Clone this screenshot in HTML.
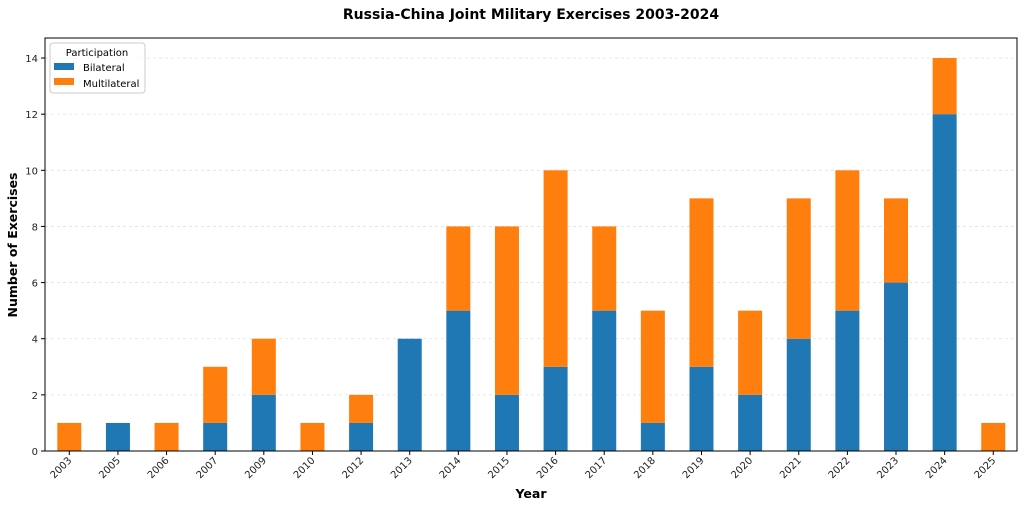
<!DOCTYPE html>
<html><head><meta charset="utf-8"><style>body{margin:0;background:#fff}svg{display:block;font-family:"DejaVu Sans","Liberation Sans",sans-serif}</style></head>
<body>
<svg width="1024" height="508" viewBox="0 0 1024 508" xmlns="http://www.w3.org/2000/svg">
<text x="531" y="19" text-anchor="middle" font-size="14" font-weight="bold">Russia-China Joint Military Exercises 2003-2024</text>
<g id="grid" stroke="#e0e0e0" stroke-dasharray="3,3" stroke-width="0.8"></g>
<g id="bars"></g>
<rect x="45" y="38" width="972" height="413" fill="none" stroke="#000" stroke-width="1"/>
<g id="ticks" font-size="10" fill="#222"></g>
<text x="531" y="498" text-anchor="middle" font-size="12.5" font-weight="bold">Year</text>
<text transform="translate(17,245) rotate(-90)" text-anchor="middle" font-size="12.5" font-weight="bold">Number of Exercises</text>
<g>
<rect x="50" y="43" width="95" height="50" rx="3" fill="#fff" fill-opacity="0.8" stroke="#ccc"/>
<text x="97" y="56" text-anchor="middle" font-size="10">Participation</text>
<rect x="54" y="63" width="20" height="7" fill="#1f77b4"/>
<text x="83" y="71" font-size="10">Bilateral</text>
<rect x="54" y="78" width="20" height="7" fill="#ff7f0e"/>
<text x="83" y="87" font-size="10">Multilateral</text>
</g>
<script>
var d=[["2003",0,1],["2005",1,0],["2006",0,1],["2007",1,2],["2009",2,2],["2010",0,1],["2012",1,1],["2013",4,0],["2014",5,3],["2015",2,6],["2016",3,7],["2017",5,3],["2018",1,4],["2019",3,6],["2020",2,3],["2021",4,5],["2022",5,5],["2023",6,3],["2024",12,2],["2025",0,1]];
var ns="http://www.w3.org/2000/svg",y0=451,u=28.07;
function el(p,t,a,txt){var e=document.createElementNS(ns,t);for(var k in a)e.setAttribute(k,a[k]);if(txt)e.textContent=txt;document.getElementById(p).appendChild(e);}
for(var v=0;v<=14;v+=2){var y=y0-v*u;if(v>0)el("grid","line",{x1:45,x2:1017,y1:y,y2:y});el("ticks","line",{x1:41,x2:45,y1:y,y2:y,stroke:"#000"});el("ticks","text",{x:38,y:y+4,"text-anchor":"end"},String(v));}
d.forEach(function(r,i){var cx=69.3+i*48.63;
if(r[1])el("bars","rect",{x:cx-12,y:y0-r[1]*u,width:24,height:r[1]*u,fill:"#1f77b4"});
if(r[2])el("bars","rect",{x:cx-12,y:y0-(r[1]+r[2])*u,width:24,height:r[2]*u,fill:"#ff7f0e"});
el("ticks","line",{x1:cx,x2:cx,y1:451,y2:455,stroke:"#000"});
el("ticks","text",{x:0,y:0,"text-anchor":"end",transform:"translate("+(cx+3)+",461) rotate(-45)"},r[0]);});
</script>
</svg>
</body></html>
